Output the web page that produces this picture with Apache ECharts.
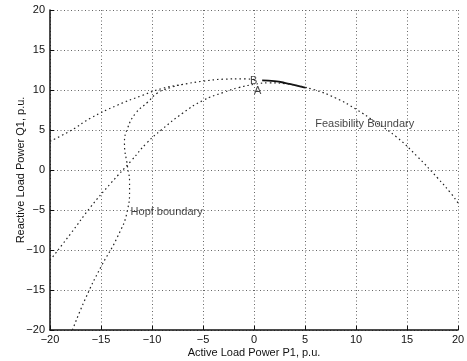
<!DOCTYPE html>
<html>
<head>
<meta charset="utf-8">
<script src="https://cdn.jsdelivr.net/npm/echarts@6/dist/echarts.min.js"></script>
<style>html,body{margin:0;padding:0;background:#fff;}#c{width:467px;height:361px;}</style>
</head>
<body>
<div id="c"></div>
<script>
// Feasibility boundary (dotted parts) and its solid arc between B and ~P1=5
const feasLeftX  = [-20, -18, -16, -13.4, -11, -9, -7, -5, -3, -1, 0];
const feasLeftY  = [3.6, 4.9, 6.5, 8.1, 9.3, 10.2, 10.7, 11.1, 11.35, 11.4, 11.3];
const feasSolidX = [0.8, 2, 3, 4, 5];
const feasSolidY = [11.2, 11.1, 10.9, 10.6, 10.3];
const feasRightX = [5, 6, 8, 10, 12, 14, 16, 18, 19.2, 20];
const feasRightY = [10.3, 10, 9, 7.6, 5.9, 4.1, 1.7, -1.0, -2.75, -4.1];
// Lower curve through A
const lowerX = [-20, -18, -16, -14, -12, -10.5, -9, -7, -5, -3, -1.5, 0, 1.5, 3, 4.5, 5.5];
const lowerY = [-11.3, -8, -4.6, -1.6, 1.2, 3.4, 5.1, 7.1, 8.7, 9.7, 10.3, 10.7, 10.9, 10.8, 10.5, 10.2];
// Hopf boundary
const hopfX = [-17.8, -16.5, -15, -13.4, -12.4, -12.2, -12.2, -12.4, -12.7, -12.4, -11.6, -10.4, -9.5, -8.2, -7];
const hopfY = [-20, -16, -12.1, -8.4, -5, -2.5, -1.5, 0.4, 3.4, 5.2, 7.1, 8.5, 9.6, 10.3, 10.7];
// Axis ticks
const xTicks = [-20, -15, -10, -5, 0, 5, 10, 15, 20];
const yTicks = [-20, -15, -10, -5, 0, 5, 10, 15, 20];
// Annotations
const annText = ['Feasibility Boundary', 'Hopf boundary', 'B', 'A'];
const annX = [6.0, -12.1, -0.4, 0.0];
const annY = [5.8, -5.3, 11.15, 9.85];

const pairs = (xs, ys) => xs.map((x, i) => [x, ys[i]]);
const fmt = v => (v < 0 ? '\u2212' + Math.abs(v) : String(v));
const FONT = 'Liberation Sans, Arial, Helvetica, sans-serif';

const dotted = {color: '#222', width: 1.2, type: [1.5, 3]};

const chart = echarts.init(document.getElementById('c'), null, {renderer: 'canvas'});
chart.setOption({
  animation: false,
  backgroundColor: '#fff',
  grid: {left: 50, right: 9, top: 10, bottom: 31, containLabel: false, outerBoundsMode: 'none'},
  xAxis: {
    type: 'value', min: xTicks[0], max: xTicks[xTicks.length - 1], interval: 5,
    name: 'Active Load Power P1, p.u.', nameLocation: 'middle', nameGap: 17, nameMoveOverlap: false,
    nameTextStyle: {fontFamily: FONT, fontSize: 11, color: '#111'},
    axisLine: {show: true, onZero: false, lineStyle: {color: '#111', width: 1.5}},
    axisTick: {show: true, inside: true, length: 4, lineStyle: {color: '#111'}},
    axisLabel: {margin: 4, fontFamily: FONT, fontSize: 11, color: '#111', formatter: fmt},
    splitLine: {show: true, lineStyle: {color: '#666', width: 1, type: [1, 2.5]}}
  },
  yAxis: {
    type: 'value', min: yTicks[0], max: yTicks[yTicks.length - 1], interval: 5,
    name: 'Reactive Load Power Q1, p.u.', nameLocation: 'middle', nameGap: 24, nameMoveOverlap: false,
    nameTextStyle: {fontFamily: FONT, fontSize: 11, color: '#111'},
    axisLine: {show: true, onZero: false, lineStyle: {color: '#111', width: 1.5}},
    axisTick: {show: true, inside: true, length: 4, lineStyle: {color: '#111'}},
    axisLabel: {margin: 5, fontFamily: FONT, fontSize: 11, color: '#111', formatter: fmt},
    splitLine: {show: true, lineStyle: {color: '#666', width: 1, type: [1, 2.5]}}
  },
  series: [
    {type: 'line', data: pairs(feasLeftX, feasLeftY), showSymbol: false, smooth: true, lineStyle: dotted},
    {type: 'line', data: pairs(feasSolidX, feasSolidY), showSymbol: false, smooth: true, lineStyle: {color: '#111', width: 1.8}},
    {type: 'line', data: pairs(feasRightX, feasRightY), showSymbol: false, smooth: true, lineStyle: dotted},
    {type: 'line', data: pairs(lowerX, lowerY), showSymbol: false, smooth: true, lineStyle: dotted},
    {type: 'line', data: pairs(hopfX, hopfY), showSymbol: false, smooth: true, lineStyle: dotted},
    {
      type: 'scatter', symbolSize: 0,
      data: annText.map((t, i) => ({value: [annX[i], annY[i]], name: t})),
      label: {
        show: true, formatter: p => p.name, fontFamily: FONT, fontSize: 11, color: '#111',
        position: 'inside', align: 'left', verticalAlign: 'middle'
      },
      silent: true
    }
  ]
});
</script>
</body>
</html>
